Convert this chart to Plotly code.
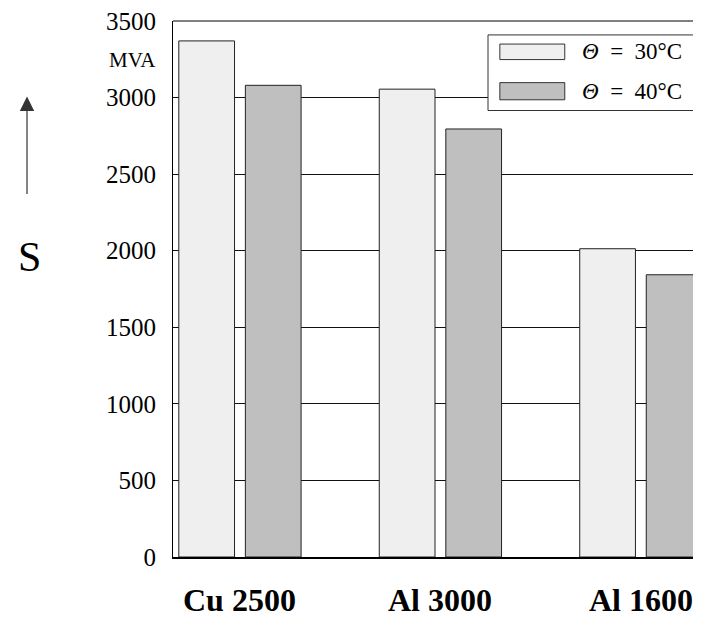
import plotly.graph_objects as go

categories = ["Cu 2500", "Al 3000", "Al 1600"]
series_names = ["30°C", "40°C"]
values_30 = [3370, 3055, 2013]
values_40 = [3080, 2795, 1843]
y_ticks = [0, 500, 1000, 1500, 2000, 2500, 3000, 3500]

fills = ["#efefef", "#bfbfbf"]
serif = "Liberation Serif"

fig = go.Figure()
for vals, name, col, off in [(values_30, series_names[0], fills[0], -0.305),
                             (values_40, series_names[1], fills[1], 0.027)]:
    fig.add_trace(go.Bar(
        x=categories, y=vals, name=name, width=0.278, offset=off,
        marker=dict(color=col, line=dict(color="#222", width=1)),
        showlegend=False))

fig.update_layout(
    width=693, height=611,
    margin=dict(l=165, r=0, t=10, b=62),
    plot_bgcolor="white", paper_bgcolor="white",
    font=dict(family=serif, color="black", size=20),
    barmode="overlay",
    xaxis=dict(range=[-0.334, 2.3], showticklabels=False, showgrid=False,
               showline=True, linecolor="black", linewidth=2, zeroline=False,
               fixedrange=True),
    yaxis=dict(range=[0, 3500], tickvals=y_ticks, showgrid=True,
               gridcolor="#111", gridwidth=1, showline=True, linecolor="black",
               linewidth=1, zeroline=False, ticklabelstandoff=11,
               ticklabeloverflow="allow",
               tickfont=dict(family=serif, size=25)),
)

# top frame line
fig.add_shape(type="line", xref="paper", yref="paper", x0=0, x1=1, y0=1, y1=1,
              line=dict(color="black", width=1))

# category labels
for c in categories:
    fig.add_annotation(x=c, y=-0.08, xref="x", yref="paper", text=f"<b>{c}</b>",
                       xanchor="center", yanchor="middle",
                       showarrow=False, font=dict(family=serif, size=32))

# unit label
fig.add_annotation(x=-0.028, y=0.928, xref="paper", yref="paper", text="MVA",
                   xanchor="right", yanchor="middle", showarrow=False,
                   font=dict(family=serif, size=21))
# axis symbol and arrow
fig.add_annotation(x=-0.271, y=0.56, xref="paper", yref="paper", text="S",
                   xanchor="center", yanchor="middle",
                   showarrow=False, font=dict(family=serif, size=42))
fig.add_annotation(x=-0.2765, y=0.859, xref="paper", yref="paper", text="",
                   showarrow=True, ax=0, ay=99, arrowhead=2, arrowsize=2.4,
                   arrowwidth=1.2, arrowcolor="#333")

# legend box
fig.add_shape(type="rect", xref="paper", yref="paper", x0=0.5966, x1=0.998,
              y0=0.833, y1=0.974, line=dict(color="#333", width=1), fillcolor="white")
sw_y = [(0.928, 0.957), (0.853, 0.885)]
for (y0, y1), col, name in zip(sw_y, fills, series_names):
    fig.add_shape(type="rect", xref="paper", yref="paper", x0=0.619, x1=0.742,
                  y0=y0, y1=y1, line=dict(color="#333", width=1), fillcolor=col)
    fig.add_annotation(x=0.771, y=(y0 + y1) / 2, xref="paper", yref="paper",
                       text=f"<i>Θ</i>\u00a0\u00a0=\u00a0\u00a0{name}",
                       xanchor="left", yanchor="middle",
                       showarrow=False, font=dict(family=serif, size=23))

fig.write_html("out.html")
